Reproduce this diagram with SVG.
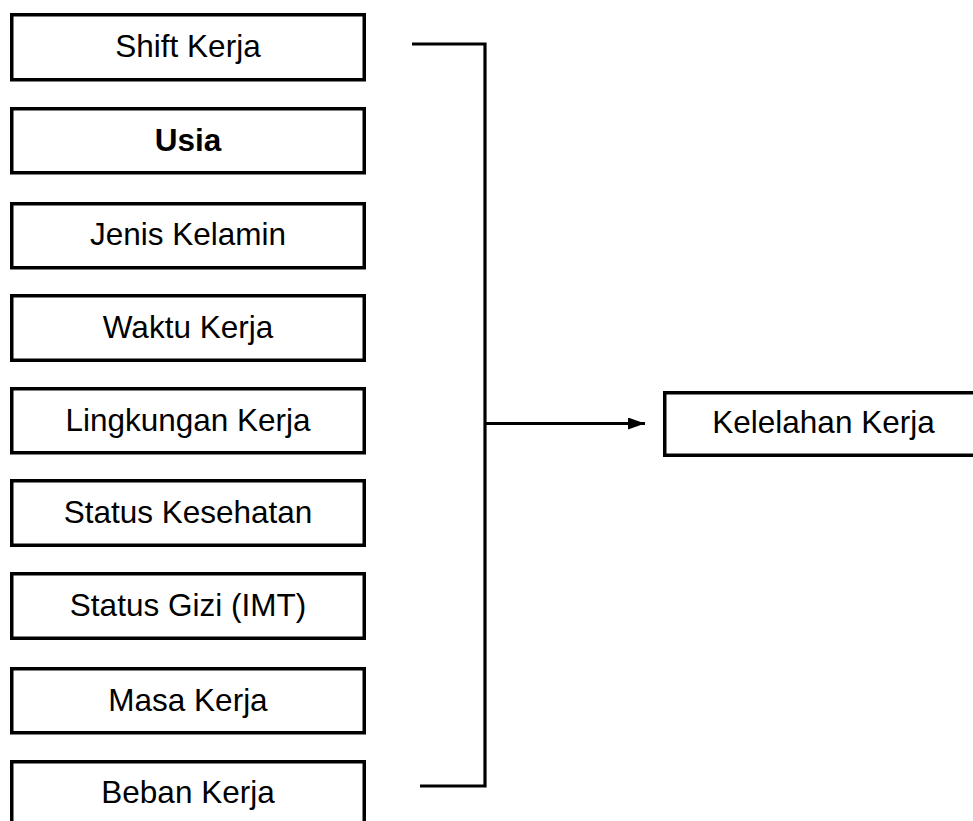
<svg xmlns="http://www.w3.org/2000/svg" width="973" height="821" viewBox="0 0 973 821">
<defs>
<style>
.box{fill:#fff;stroke:#000;stroke-width:3.5}
.lbl{font-family:"Liberation Sans",Arial,sans-serif;font-size:31.5px;fill:#000;text-anchor:middle}
.b{font-weight:bold}
.con{fill:none;stroke:#000;stroke-width:3.2}
</style>
<marker id="arr" markerWidth="17" markerHeight="12" refX="17" refY="6" orient="auto" markerUnits="userSpaceOnUse">
<path d="M0,0 L17,6 L0,12 Z" fill="#000"/>
</marker>
</defs>
<rect width="973" height="821" fill="#fff"/>
<g id="shift"><rect class="box" x="11.75" y="14.75" width="352.5" height="65"/><text class="lbl" x="188" y="57">Shift Kerja</text></g>
<g id="usia"><rect class="box" x="11.75" y="108.75" width="352.5" height="64"/><text class="lbl b" x="188" y="151">Usia</text></g>
<g id="jenis"><rect class="box" x="11.75" y="203.75" width="352.5" height="64"/><text class="lbl" x="188" y="245">Jenis Kelamin</text></g>
<g id="waktu"><rect class="box" x="11.75" y="295.75" width="352.5" height="64.5"/><text class="lbl" x="188" y="338">Waktu Kerja</text></g>
<g id="lingkungan"><rect class="box" x="11.75" y="388.75" width="352.5" height="64"/><text class="lbl" x="188" y="431">Lingkungan Kerja</text></g>
<g id="kesehatan"><rect class="box" x="11.75" y="480.75" width="352.5" height="64.5"/><text class="lbl" x="188" y="523">Status Kesehatan</text></g>
<g id="gizi"><rect class="box" x="11.75" y="573.75" width="352.5" height="64.5"/><text class="lbl" x="188" y="616">Status Gizi (IMT)</text></g>
<g id="masa"><rect class="box" x="11.75" y="668.75" width="352.5" height="64"/><text class="lbl" x="188" y="711">Masa Kerja</text></g>
<g id="beban"><rect class="box" x="11.75" y="761.75" width="352.5" height="80"/><text class="lbl" x="188" y="803">Beban Kerja</text></g>
<g id="kelelahan"><rect class="box" x="664.75" y="392.75" width="330" height="62.5"/><text class="lbl" x="823.5" y="433">Kelelahan Kerja</text></g>
<g id="connectors">
<polyline class="con" points="412,44 485,44 485,786 420,786"/>
<line class="con" x1="485" y1="423.5" x2="645" y2="423.5" marker-end="url(#arr)"/>
</g>
</svg>
